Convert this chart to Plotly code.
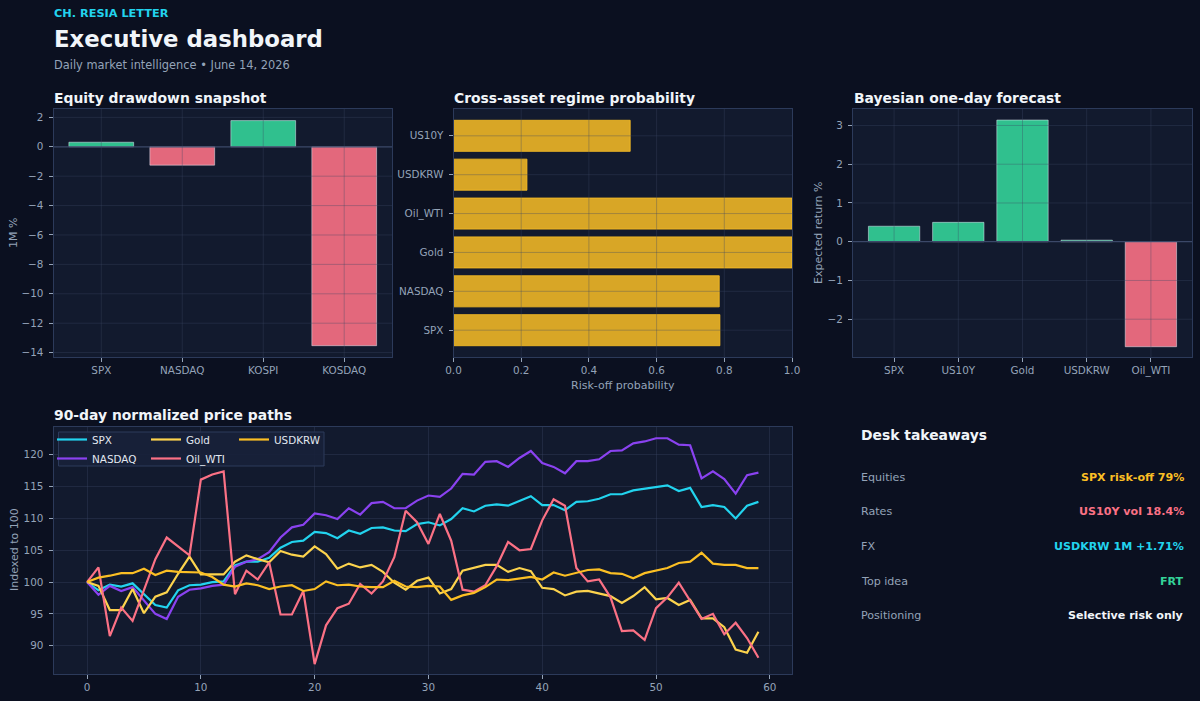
import plotly.graph_objects as go

# ------------------------------------------------------------------ data
drawdown_names = ["SPX", "NASDAQ", "KOSPI", "KOSDAQ"]
drawdown_1m = [0.31, -1.25, 1.78, -13.53]

regime_names = ["SPX", "NASDAQ", "Gold", "Oil_WTI", "USDKRW", "US10Y"]
regime_riskoff = [0.787, 0.785, 1.0, 1.0, 0.217, 0.522]

forecast_names = ["SPX", "US10Y", "Gold", "USDKRW", "Oil_WTI"]
forecast_ret = [0.40, 0.50, 3.14, 0.04, -2.71]

days = list(range(60))
spx = [100.0, 98.7, 99.6, 99.3, 99.8, 98.1, 96.4, 96.0, 98.7, 99.5,
       99.6, 100.0, 100.1, 102.6, 103.2, 103.2, 103.8, 105.4, 106.3, 106.5,
       107.9, 107.7, 106.9, 108.1, 107.6, 108.5, 108.6, 108.1, 108.0, 109.1,
       109.4, 108.9, 109.9, 111.6, 111.1, 112.0, 112.2, 112.0, 112.7, 113.5,
       112.1, 112.1, 111.3, 112.6, 112.7, 113.1, 113.8, 113.8, 114.4, 114.7,
       115.0, 115.2, 114.3, 114.8, 111.8, 112.1, 111.8, 110.0, 112.0, 112.6]
nasdaq = [100.0, 98.0, 99.4, 98.6, 99.2, 97.1, 95.0, 94.2, 97.7, 98.8,
          99.0, 99.4, 99.6, 102.4, 103.2, 103.6, 104.7, 107.0, 108.6, 109.0,
          110.8, 110.5, 109.9, 111.6, 110.6, 112.4, 112.6, 111.6, 111.6, 112.8,
          113.6, 113.4, 114.7, 117.0, 116.9, 118.9, 119.0, 118.1, 119.5, 120.6,
          118.7, 118.1, 117.1, 119.0, 119.0, 119.3, 120.6, 120.7, 121.8, 122.1,
          122.6, 122.6, 121.6, 121.5, 116.3, 117.4, 116.2, 113.9, 116.8, 117.2]
gold = [100.0, 99.4, 95.6, 95.6, 98.9, 95.1, 97.7, 98.4, 101.3, 104.0,
        101.2, 101.2, 101.2, 103.2, 104.2, 103.6, 103.1, 104.9, 104.3, 104.0,
        105.6, 104.4, 102.1, 102.9, 102.3, 102.7, 101.6, 99.9, 98.8, 100.2,
        100.7, 98.2, 98.9, 101.8, 102.3, 102.7, 102.7, 101.6, 102.2, 101.7,
        99.1, 98.9, 97.9, 98.5, 98.6, 98.2, 97.8, 96.7, 97.8, 99.2,
        97.3, 97.5, 96.4, 97.2, 94.3, 94.3, 92.9, 89.4, 88.9, 92.2]
oil_wti = [100.0, 102.3, 91.5, 96.0, 93.9, 98.9, 103.6, 107.0, 105.6, 104.2,
           116.1, 116.9, 117.4, 98.1, 101.8, 100.4, 103.1, 94.9, 94.9, 98.6,
           87.1, 93.2, 95.9, 96.6, 99.7, 98.2, 100.1, 103.9, 111.2, 109.4,
           106.0, 110.7, 106.5, 98.8, 98.5, 99.5, 102.5, 106.3, 105.0, 105.2,
           109.7, 113.0, 112.0, 102.2, 100.1, 100.4, 97.6, 92.3, 92.4, 90.9,
           95.9, 97.6, 99.9, 97.1, 94.2, 95.0, 91.8, 93.6, 91.2, 88.1]
usdkrw = [100.0, 100.7, 101.0, 101.4, 101.4, 102.1, 101.1, 101.8, 101.6, 101.6,
          101.5, 100.8, 99.6, 99.3, 99.8, 99.5, 98.9, 99.3, 99.5, 98.6,
          98.9, 100.1, 99.5, 99.6, 99.3, 99.2, 99.2, 100.2, 99.3, 99.2,
          99.4, 99.3, 97.2, 97.9, 98.3, 99.2, 100.4, 100.3, 100.5, 100.8,
          100.4, 101.5, 101.0, 101.4, 101.9, 102.0, 101.4, 101.3, 100.6, 101.4,
          101.8, 102.2, 103.0, 103.2, 104.6, 102.9, 102.7, 102.7, 102.2, 102.2]

desk_labels = ["Equities", "Rates", "FX", "Top idea", "Positioning"]
desk_values = ["SPX risk-off 79%", "US10Y vol 18.4%", "USDKRW 1M +1.71%", "FRT",
               "Selective risk only"]

# ------------------------------------------------------------------ style
BG = "#0b1020"
PANEL = "#121a2e"
FRAME = "#2c3a5a"
GRID = "rgba(60,72,100,0.35)"
ZERO = "#3b4868"
MUTED = "#94a3b8"
WHITE = "#f1f5f9"
GREEN = "rgba(52,211,153,0.9)"
RED = "rgba(251,113,133,0.9)"
AMBER = "#fbbf24"
CYAN = "#22d3ee"
ROSE = "#fb7185"
PURPLE = "#8a42f0"
GOLDLINE = "#fcd34d"
FONT = "DejaVu Sans"
desk_colors = [AMBER, ROSE, CYAN, "#34d399", WHITE]

W, H = 1200, 701


def px(x):
    return x / W


def py(y):
    return 1 - y / H


fig = go.Figure()

fig.add_trace(go.Bar(x=drawdown_names, y=drawdown_1m, width=0.8,
                     marker=dict(color=[GREEN if v >= 0 else RED for v in drawdown_1m]),
                     xaxis="x", yaxis="y", showlegend=False))
fig.add_trace(go.Bar(x=regime_riskoff, y=regime_names, orientation="h", width=0.8,
                     marker=dict(color="rgba(251,191,36,0.85)",
                                 line=dict(color=AMBER, width=0.8)),
                     xaxis="x2", yaxis="y2", showlegend=False))
fig.add_trace(go.Bar(x=forecast_names, y=forecast_ret, width=0.8,
                     marker=dict(color=[GREEN if v >= 0 else RED for v in forecast_ret]),
                     xaxis="x3", yaxis="y3", showlegend=False))

series = [("SPX", spx, CYAN, "legend"), ("NASDAQ", nasdaq, PURPLE, "legend"),
          ("Gold", gold, GOLDLINE, "legend2"), ("Oil_WTI", oil_wti, ROSE, "legend2"),
          ("USDKRW", usdkrw, AMBER, "legend3")]
for name, vals, col, leg in series:
    fig.add_trace(go.Scatter(x=days, y=vals, mode="lines", name=name,
                             line=dict(color=col, width=2.2),
                             xaxis="x4", yaxis="y4", legend=leg))


def ax(**kw):
    d = dict(showline=True, mirror=True, linecolor=FRAME, linewidth=1,
             ticks="outside", ticklen=4, tickcolor=MUTED,
             tickfont=dict(size=10.4, color=MUTED, family=FONT),
             showgrid=False, zeroline=False, fixedrange=True, automargin=False)
    d.update(kw)
    return d


def yax(**kw):
    return ax(ticklabelstandoff=3, **kw)


# grid lines over the bars (matplotlib-style), drawn as shapes
shapes = []


def vgrid(xref, yref, xs):
    for x in xs:
        shapes.append(dict(type="line", xref=xref, yref=yref + " domain", x0=x, x1=x,
                           y0=0, y1=1, line=dict(color=GRID, width=1), layer="above"))


def hgrid(xref, yref, ys, color=GRID, width=1):
    for y in ys:
        shapes.append(dict(type="line", xref=xref + " domain", yref=yref, x0=0, x1=1,
                           y0=y, y1=y, line=dict(color=color, width=width), layer="above"))


vgrid("x", "y", drawdown_names)
hgrid("x", "y", [-14, -12, -10, -8, -6, -4, -2, 2])
hgrid("x", "y", [0], ZERO, 1.2)
vgrid("x2", "y2", [0.2, 0.4, 0.6, 0.8])
hgrid("x2", "y2", regime_names)
vgrid("x3", "y3", forecast_names)
hgrid("x3", "y3", [-2, -1, 1, 2, 3])
hgrid("x3", "y3", [0], ZERO, 1.2)

# legend frame
shapes.append(dict(type="rect", xref="paper", yref="paper", x0=px(58.5), x1=px(324),
                   y0=py(466), y1=py(432), fillcolor="rgba(24,33,58,0.92)",
                   line=dict(color=FRAME, width=1), layer="above"))

ann = []


def text(x, y, s, size, color, anchor="left", bold=False, angle=0):
    ann.append(dict(x=px(x), y=py(y), xref="paper", yref="paper", showarrow=False,
                    text=f"<b>{s}</b>" if bold else s, xanchor=anchor, yanchor="middle",
                    textangle=angle, font=dict(size=size, color=color, family=FONT)))


text(52, 13.5, "CH. RESIA LETTER", 11.3, CYAN, bold=True)
text(52, 39, "Executive dashboard", 22.8, WHITE, bold=True)
text(52, 65, "Daily market intelligence • June 14, 2026", 11.4, MUTED)
text(52, 98, "Equity drawdown snapshot", 13.9, WHITE, bold=True)
text(451.5, 98, "Cross-asset regime probability", 13.9, WHITE, bold=True)
text(851.5, 98, "Bayesian one-day forecast", 13.9, WHITE, bold=True)
text(52, 415, "90-day normalized price paths", 13.9, WHITE, bold=True)
text(13, 233, "1M %", 11, MUTED, anchor="center", angle=-90)
text(818, 233, "Expected return %", 11, MUTED, anchor="center", angle=-90)
text(14, 550, "Indexed to 100", 11, MUTED, anchor="center", angle=-90)
text(622.5, 385, "Risk-off probability", 11, MUTED, anchor="center")

text(859, 434.5, "Desk takeaways", 13.9, WHITE, bold=True)
for i, (lab, val, col) in enumerate(zip(desk_labels, desk_values, desk_colors)):
    y = 477 + i * 34.7
    text(859, y, lab, 11.1, MUTED)
    text(1186, y, val, 11.1, col, anchor="right", bold=True)

leg = dict(bgcolor="rgba(0,0,0,0)", borderwidth=0, yanchor="top", xanchor="left",
           xref="container", yref="container", y=py(425), itemwidth=30,
           tracegroupgap=0, font=dict(size=10.4, color="#e2e8f0", family=FONT))

fig.update_layout(
    width=W, height=H, margin=dict(l=0, r=0, t=0, b=0, autoexpand=False),
    paper_bgcolor=BG, plot_bgcolor=PANEL, font=dict(family=FONT, color=MUTED),
    bargap=0.2,
    xaxis=ax(domain=[px(53.5), px(392)], anchor="y", type="category",
             range=[-0.59, 3.59]),
    yaxis=yax(domain=[py(357), py(109)], anchor="x", range=[-14.30, 2.57], dtick=2),
    xaxis2=ax(domain=[px(453.5), px(792)], anchor="y2", range=[0, 1], dtick=0.2,
              tickformat=".1f"),
    yaxis2=yax(domain=[py(357), py(109)], anchor="x2", type="category",
               range=[-0.69, 5.69]),
    xaxis3=ax(domain=[px(853), px(1192)], anchor="y3", type="category",
              range=[-0.64, 4.64]),
    yaxis3=yax(domain=[py(357), py(109)], anchor="x3", range=[-2.975, 3.425], dtick=1),
    xaxis4=ax(domain=[px(53.5), px(792)], anchor="y4", range=[-2.95, 61.95], dtick=10,
              showgrid=True, gridcolor=GRID),
    yaxis4=yax(domain=[py(674), py(426.5)], anchor="x4", range=[85.55, 124.45], dtick=5,
               showgrid=True, gridcolor=GRID),
    legend=dict(x=px(52), **leg),
    legend2=dict(x=px(146), **leg),
    legend3=dict(x=px(234), **leg),
    shapes=shapes,
    annotations=ann,
)

# page margin off so the 1200x701 figure sits at the window origin
fig.write_html("out.html", config={"displayModeBar": False},
               post_script="document.body.style.margin='0';"
                           "document.body.style.overflow='hidden';")
